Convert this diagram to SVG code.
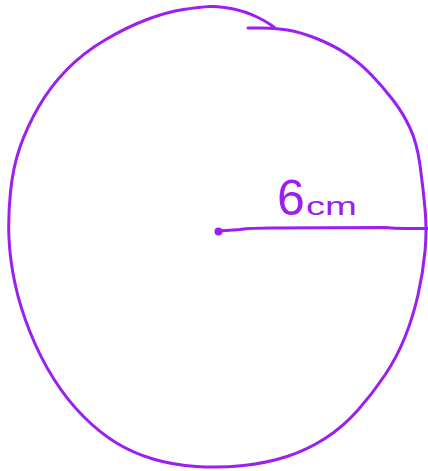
<svg xmlns="http://www.w3.org/2000/svg" width="428" height="471" viewBox="0 0 428 471">
<style>
.ink{fill:none;stroke:#9a1ff0;stroke-width:3;stroke-linecap:round;stroke-linejoin:round}
.lbl{fill:#9a1ff0;font-family:"Liberation Sans","DejaVu Sans",sans-serif}
</style>
<rect width="428" height="471" fill="#ffffff"/>
<g id="circle">
<path class="ink" d="M248,28 L261.5,28 Q275,28 287.5,30 Q300,32 316.5,38.5 Q333,45 346.5,54 Q360,63 371.5,75 Q383,87 393,100 Q403,113 410,128 Q417,143 420,165 Q423,187 425,208.5 Q427,230 425,251.5 Q423,273 418,295 Q413,317 405,337 Q397,357 385,375 Q373,393 358,410 Q343,427 325,438.5 Q307,450 287,456.5 Q267,463 243.5,465.5 Q220,468 196.5,466.5 Q173,465 153,459 Q133,453 116.5,443 Q100,433 83.5,416.5 Q67,400 53.5,378.5 Q40,357 30,332 Q20,307 15,283.5 Q10,260 9,238.5 Q8,217 10.5,192 Q13,167 20,147 Q27,127 38.5,107 Q50,87 66.5,70 Q83,53 105,40 Q127,27 147,19.5 Q167,12 183.5,9.5 Q200,7 210,6.5 Q220,6 233.5,9 Q247,12 257,17 Q267,22 271,25 L275,28"/>
</g>
<g id="center">
<circle cx="218.5" cy="231.5" r="4" fill="#9a1ff0"/>
</g>
<g id="radius">
<path class="ink" d="M219,231 L240,229.5 Q250,228 270,228 L385,227.5 Q395,228.5 405,228.5 L430,228.5"/>
</g>
<g id="label">
<text class="lbl" x="277" y="215"><tspan font-size="50">6</tspan><tspan x="306" font-size="26" textLength="51" lengthAdjust="spacingAndGlyphs">cm</tspan></text>
</g>
</svg>
